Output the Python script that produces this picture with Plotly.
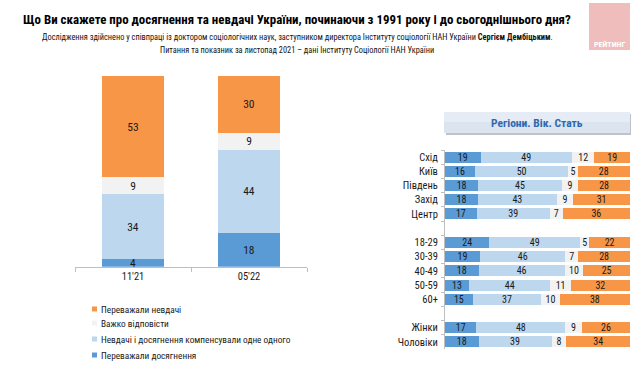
import plotly.graph_objects as go

# ---------------- data ----------------
periods = ["11'21", "05'22"]
left_achievements = [4, 18]
left_balanced = [34, 44]
left_hard = [9, 9]
left_failures = [53, 30]

series_names = [
    "Переважали досягнення",
    "Невдачі і досягнення компенсували одне одного",
    "Важко відповісти",
    "Переважали невдачі",
]

groups = ["Схід", "Київ", "Південь", "Захід", "Центр", " ",
          "18-29", "30-39", "40-49", "50-59", "60+", "  ",
          "Жінки", "Чоловіки"]
right_achievements = [19, 16, 18, 18, 17, None, 24, 19, 18, 13, 15, None, 17, 18]
right_balanced = [49, 50, 45, 43, 39, None, 49, 46, 46, 44, 37, None, 48, 39]
right_hard = [12, 5, 9, 9, 7, None, 5, 7, 10, 11, 10, None, 9, 8]
right_failures = [19, 28, 28, 31, 36, None, 22, 28, 25, 32, 38, None, 26, 34]

title = "Що Ви скажете про досягнення та невдачі України, починаючи з 1991 року і до сьогоднішнього дня?"
sub1 = ("Дослідження здійснено у співпраці із доктором соціологічних наук, заступником директора "
        "Інституту соціології НАН України <b>Сергієм Дембіцьким</b>.")
sub2 = "Питання та показник за листопад 2021 – дані Інституту Соціології НАН України"
header = "Регіони. Вік. Стать"
logo_text = "РЕЙТИНГ"

# ---------------- style ----------------
colors = ["#5B9BD5", "#BDD7EE", "#F2F2F2", "#F79646"]
FONT = "Liberation Sans Narrow, Arial Narrow, Roboto Condensed, Liberation Sans, sans-serif"
W, H = 640, 366


def px(x):
    return x / W


def py(y):
    return 1 - y / H


def lbl(vals):
    return ["" if v is None else str(v) for v in vals]


fig = go.Figure()

left_vals = [left_achievements, left_balanced, left_hard, left_failures]
right_vals = [right_achievements, right_balanced, right_hard, right_failures]

for name, vals, col in zip(series_names, left_vals, colors):
    fig.add_trace(go.Bar(
        x=periods, y=vals, name=name, marker=dict(color=col, line=dict(width=0)),
        text=lbl(vals), texttemplate="%{text}", textposition="inside",
        insidetextanchor="middle", textangle=0, constraintext="none",
        textfont=dict(family=FONT, size=11.5, color="#1a1a1a"),
        width=0.53, xaxis="x", yaxis="y", showlegend=False, hoverinfo="skip"))

for name, vals, col in zip(series_names, right_vals, colors):
    fig.add_trace(go.Bar(
        y=groups, x=vals, orientation="h", name=name,
        marker=dict(color=col, line=dict(width=0)),
        text=lbl(vals), texttemplate="%{text}", textposition="inside",
        insidetextanchor="middle", textangle=0, constraintext="none",
        textfont=dict(family=FONT, size=10, color="#1a1a1a"),
        width=0.775, xaxis="x2", yaxis="y2", showlegend=False, hoverinfo="skip"))

shapes = []
annotations = []

# titles
annotations.append(dict(text="<b>" + title + "</b>", x=px(297), y=py(20), xref="paper", yref="paper",
                        xanchor="center", yanchor="middle", showarrow=False,
                        font=dict(family=FONT, size=12.9, color="#000000")))
annotations.append(dict(text=sub1, x=px(297), y=py(37), xref="paper", yref="paper",
                        xanchor="center", yanchor="middle", showarrow=False,
                        font=dict(family=FONT, size=8.3, color="#111111")))
annotations.append(dict(text=sub2, x=px(297), y=py(50), xref="paper", yref="paper",
                        xanchor="center", yanchor="middle", showarrow=False,
                        font=dict(family=FONT, size=8.3, color="#111111")))

# logo
shapes.append(dict(type="rect", xref="paper", yref="paper", x0=px(589), x1=px(630),
                   y0=py(50), y1=py(3), fillcolor="#F0BDBD", line=dict(width=0), layer="below"))
annotations.append(dict(text="<b>" + logo_text + "</b>", x=px(609.5), y=py(44), xref="paper", yref="paper",
                        xanchor="center", yanchor="middle", showarrow=False,
                        font=dict(family=FONT, size=8, color="#FFFFFF")))

# header box with shadow
shapes.append(dict(type="rect", xref="paper", yref="paper", x0=px(446), x1=px(631),
                   y0=py(135), y1=py(114), fillcolor="#BFC3C9", line=dict(width=0), layer="below"))
shapes.append(dict(type="rect", xref="paper", yref="paper", x0=px(444), x1=px(630),
                   y0=py(133), y1=py(112), fillcolor="#DCE4F0", line=dict(width=0), layer="below"))
shapes.append(dict(type="rect", xref="paper", yref="paper", x0=px(444), x1=px(630),
                   y0=py(122), y1=py(112), fillcolor="#E6ECF5", line=dict(width=0), layer="below"))
annotations.append(dict(text="<b>" + header + "</b>", x=px(537), y=py(123), xref="paper", yref="paper",
                        xanchor="center", yanchor="middle", showarrow=False,
                        font=dict(family=FONT, size=11.5, color="#2E69AE")))

# manual legend
legend_rows = [(3, 309), (2, 323), (1, 339), (0, 355)]
for idx, yy in legend_rows:
    shapes.append(dict(type="rect", xref="paper", yref="paper", x0=px(92), x1=px(97),
                       y0=py(yy + 2.5), y1=py(yy - 2.5), fillcolor=colors[idx], line=dict(width=0)))
    annotations.append(dict(text=series_names[idx], x=px(99), y=py(yy), xref="paper", yref="paper",
                            xanchor="left", yanchor="middle", showarrow=False,
                            font=dict(family=FONT, size=9.3, color="#1a1a1a")))

fig.update_layout(
    width=W, height=H, margin=dict(l=0, r=0, t=0, b=0),
    paper_bgcolor="white", plot_bgcolor="rgba(0,0,0,0)",
    barmode="stack", barnorm="percent",
    font=dict(family=FONT, color="#1a1a1a"),
    xaxis=dict(domain=[px(75), px(307)], type="category", categoryorder="array", categoryarray=periods,
               showline=True, linecolor="#BFBFBF", linewidth=1, ticks="outside", tickson="boundaries",
               ticklen=4, tickcolor="#BFBFBF", showgrid=False, zeroline=False,
               tickfont=dict(family=FONT, size=10.5, color="#1a1a1a"), anchor="y", fixedrange=True),
    yaxis=dict(domain=[py(266.7), py(76)], range=[0, 100], visible=False, anchor="x", fixedrange=True),
    xaxis2=dict(domain=[px(445), px(630)], range=[0, 100], visible=False, anchor="y2", fixedrange=True),
    yaxis2=dict(domain=[py(349), py(150)], type="category", categoryorder="array", categoryarray=groups,
                autorange="reversed", showline=True, linecolor="#BFBFBF", linewidth=1,
                ticks="outside", tickson="boundaries", ticklen=3, tickcolor="#BFBFBF",
                showgrid=False, zeroline=False, ticklabelstandoff=4,
                tickfont=dict(family=FONT, size=10.5, color="#1a1a1a"), anchor="x2", fixedrange=True),
    shapes=shapes, annotations=annotations,
)

fig.write_html(
    "out.html",
    config={"displayModeBar": False},
    post_script="document.body.style.margin='0';document.body.style.overflow='hidden';",
)
